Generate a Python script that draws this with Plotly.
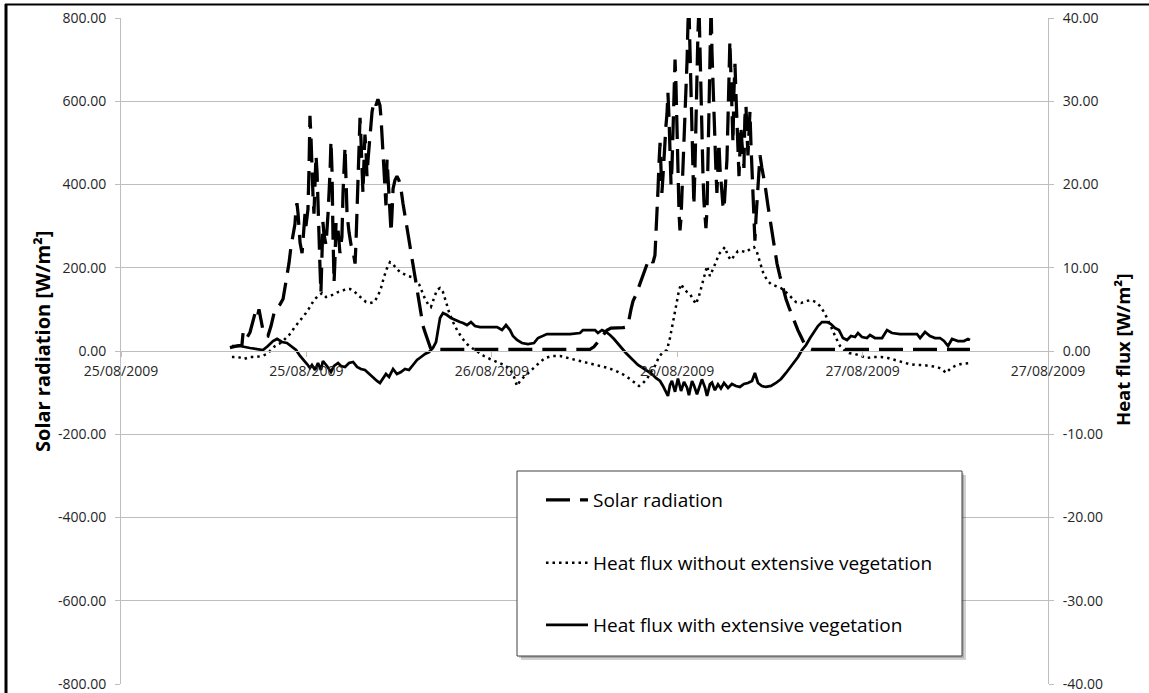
import pandas as pd
import plotly.graph_objects as go

# (hours since 25/08/2009 00:00, W/m2)
solar_radiation = [
    (7.05, 8), (7.31, 10), (7.57, 12), (7.83, 15), (7.90, 43), (8.09, 28), (8.35, 45), (8.54, 75),
    (8.67, 90), (8.80, 78), (8.93, 100), (9.06, 75), (9.19, 50), (9.32, 38), (9.51, 36), (9.71, 60),
    (9.90, 90), (10.10, 105), (10.29, 112), (10.49, 125), (10.61, 150), (10.74, 175), (10.87, 210),
    (11.00, 250), (11.13, 275), (11.26, 305), (11.33, 345), (11.39, 355), (11.46, 330), (11.59, 260),
    (11.72, 235), (11.78, 275), (11.91, 330), (11.97, 300), (12.10, 340), (12.17, 440), (12.23, 565),
    (12.30, 510), (12.36, 420), (12.43, 370), (12.49, 330), (12.56, 410), (12.62, 470), (12.69, 430),
    (12.75, 340), (12.82, 270), (12.88, 200), (12.94, 140), (13.01, 240), (13.07, 310), (13.14, 280),
    (13.27, 255), (13.40, 330), (13.46, 370), (13.53, 430), (13.59, 505), (13.66, 430), (13.72, 280),
    (13.79, 165), (13.85, 220), (13.92, 310), (14.05, 290), (14.17, 235), (14.30, 275), (14.37, 380),
    (14.50, 490), (14.56, 430), (14.63, 330), (14.76, 285), (14.89, 255), (15.02, 240), (15.15, 210),
    (15.21, 260), (15.28, 330), (15.34, 390), (15.40, 460), (15.47, 560), (15.53, 510), (15.60, 430),
    (15.66, 380), (15.73, 460), (15.79, 520), (15.86, 480), (15.92, 420), (15.99, 460), (16.12, 530),
    (16.25, 575), (16.38, 600), (16.50, 590), (16.63, 605), (16.76, 590), (16.83, 560), (16.89, 520),
    (16.96, 470), (17.02, 420), (17.09, 380), (17.15, 350), (17.22, 460), (17.28, 420), (17.35, 340),
    (17.41, 300), (17.48, 285), (17.54, 330), (17.61, 390), (17.73, 410), (17.86, 420), (17.99, 410),
    (18.12, 390), (18.25, 355), (18.38, 325), (18.51, 290), (18.64, 260), (18.77, 235), (18.90, 210),
    (19.03, 180), (19.16, 145), (19.29, 110), (19.42, 80), (19.55, 60), (19.68, 45), (19.81, 30),
    (19.94, 15), (20.06, 4),
    (30.35, 4), (30.61, 10), (30.87, 22), (31.06, 32), (31.26, 42), (31.45, 50), (31.71, 55),
    (31.97, 55), (32.23, 55), (32.49, 56), (32.75, 58), (32.88, 75), (33.01, 100), (33.14, 120),
    (33.33, 135), (33.52, 155), (33.72, 172), (33.91, 195), (34.11, 215), (34.30, 222), (34.43, 212),
    (34.56, 230), (34.62, 270), (34.69, 330), (34.76, 390), (34.82, 450), (34.89, 500), (34.95, 440),
    (35.01, 380), (35.08, 420), (35.14, 470), (35.21, 520), (35.27, 540), (35.34, 570), (35.40, 620),
    (35.47, 560), (35.53, 480), (35.60, 400), (35.66, 440), (35.73, 560), (35.79, 650), (35.86, 700),
    (35.92, 640), (35.99, 520), (36.05, 400), (36.12, 330), (36.18, 290), (36.25, 320), (36.31, 380),
    (36.38, 450), (36.44, 520), (36.57, 600), (36.64, 700), (36.70, 790), (36.76, 830), (36.83, 720),
    (36.89, 620), (36.96, 510), (37.02, 420), (37.08, 350), (37.15, 440), (37.21, 560), (37.28, 650),
    (37.34, 760), (37.41, 830), (37.47, 720), (37.54, 600), (37.60, 500), (37.67, 420), (37.73, 360),
    (37.80, 320), (37.86, 295), (37.93, 340), (37.99, 480), (38.06, 640), (38.12, 760), (38.19, 830),
    (38.25, 720), (38.31, 640), (38.38, 560), (38.44, 480), (38.51, 430), (38.57, 380), (38.64, 450),
    (38.70, 500), (38.77, 440), (38.83, 410), (38.90, 380), (38.96, 350), (39.03, 340), (39.09, 380),
    (39.22, 460), (39.29, 560), (39.35, 680), (39.41, 745), (39.48, 660), (39.54, 560), (39.61, 500),
    (39.67, 620), (39.74, 690), (39.80, 620), (39.87, 540), (39.93, 460), (40.00, 420), (40.06, 480),
    (40.12, 540), (40.19, 500), (40.25, 460), (40.32, 440), (40.38, 560), (40.45, 590), (40.51, 530),
    (40.58, 470), (40.64, 520), (40.71, 575), (40.77, 500), (40.84, 430), (40.90, 350), (40.97, 290),
    (41.03, 265), (41.10, 320), (41.23, 400), (41.36, 470), (41.48, 440), (41.68, 400), (41.87, 350),
    (42.07, 300), (42.26, 250), (42.46, 210), (42.65, 180), (42.84, 150), (43.04, 125), (43.23, 105),
    (43.43, 85), (43.62, 65), (43.81, 50), (44.01, 35), (44.20, 20), (44.46, 8), (44.72, 4),
    (54.95, 4),
]

# (hours since 25/08/2009 00:00, W/m2)
heat_flux_without = [
    (7.18, -0.72), (7.57, -0.72), (7.96, -0.96), (8.35, -0.72), (8.74, -0.72), (9.13, -0.60),
    (9.45, -0.36), (9.71, 0.12), (9.97, 0.60), (10.23, 0.84), (10.49, 1.20), (10.74, 1.68),
    (11.00, 2.16), (11.20, 2.76), (11.46, 3.36), (11.72, 3.96), (11.97, 4.56), (12.23, 5.28),
    (12.49, 6.12), (12.75, 6.60), (13.01, 6.96), (13.27, 6.48), (13.53, 6.60), (13.79, 6.84),
    (14.05, 7.08), (14.30, 7.20), (14.56, 7.44), (14.82, 7.44), (15.08, 7.20), (15.34, 6.72),
    (15.60, 6.24), (15.86, 5.88), (16.12, 5.76), (16.38, 5.88), (16.63, 6.60), (16.83, 7.56),
    (17.02, 8.88), (17.22, 9.96), (17.41, 10.68), (17.61, 10.44), (17.80, 9.96), (18.06, 9.48),
    (18.32, 9.24), (18.58, 9.00), (18.83, 8.88), (19.09, 8.52), (19.29, 8.04), (19.48, 7.08),
    (19.68, 6.24), (19.87, 5.64), (20.06, 5.28), (20.26, 6.36), (20.45, 7.32), (20.65, 7.56),
    (20.84, 7.08), (21.04, 5.88), (21.23, 4.68), (21.49, 3.48), (21.75, 2.52), (22.07, 1.56),
    (22.39, 0.84), (22.72, 0.36), (23.11, -0.12), (23.49, -0.60), (23.88, -0.96), (24.34, -1.32),
    (24.79, -1.68), (25.18, -2.16), (25.44, -3.12), (25.63, -4.20), (25.83, -3.60), (26.08, -3.12),
    (26.41, -2.52), (26.73, -2.04), (27.06, -1.44), (27.44, -0.84), (27.90, -0.60), (28.41, -0.60),
    (28.93, -0.84), (29.45, -1.08), (29.97, -1.32), (30.49, -1.56), (31.00, -1.80), (31.52, -2.04),
    (32.04, -2.40), (32.56, -2.88), (32.94, -3.36), (33.27, -3.84), (33.53, -4.20), (33.78, -3.84),
    (34.04, -3.36), (34.30, -2.52), (34.56, -1.80), (34.82, -0.72), (35.08, -0.12), (35.34, 0.12),
    (35.53, 1.56), (35.73, 3.48), (35.92, 5.52), (36.12, 7.32), (36.25, 8.04), (36.44, 7.44),
    (36.64, 7.08), (36.83, 6.84), (37.02, 6.24), (37.21, 5.64), (37.41, 6.60), (37.60, 7.92),
    (37.80, 9.48), (37.93, 10.20), (38.12, 9.00), (38.31, 9.72), (38.51, 10.68), (38.70, 11.64),
    (38.90, 12.12), (39.09, 12.48), (39.29, 11.40), (39.48, 10.92), (39.67, 11.40), (39.93, 12.00),
    (40.19, 12.00), (40.45, 11.88), (40.71, 12.24), (40.97, 12.48), (41.16, 11.88), (41.36, 10.68),
    (41.55, 9.48), (41.81, 8.52), (42.07, 8.04), (42.39, 7.80), (42.72, 7.56), (43.04, 7.08),
    (43.37, 6.48), (43.69, 5.88), (44.01, 5.76), (44.34, 6.00), (44.66, 6.12), (44.98, 5.88),
    (45.24, 5.40), (45.50, 4.68), (45.76, 3.72), (46.02, 2.52), (46.28, 1.56), (46.54, 0.60),
    (46.80, 0.12), (47.12, -0.24), (47.51, -0.36), (47.90, -0.60), (48.28, -0.84), (48.74, -0.72),
    (49.19, -0.72), (49.64, -0.84), (50.10, -1.08), (50.55, -1.32), (51.00, -1.56), (51.46, -1.68),
    (51.91, -1.68), (52.36, -1.80), (52.82, -1.92), (53.14, -2.16), (53.40, -2.64), (53.66, -2.16),
    (53.98, -1.80), (54.37, -1.56), (54.76, -1.44), (54.95, -1.44),
]

# (hours since 25/08/2009 00:00, W/m2)
heat_flux_with = [
    (7.18, 0.60), (7.70, 0.60), (8.35, 0.36), (8.87, 0.24), (9.19, 0.12), (9.51, 0.60), (9.84, 1.20),
    (10.10, 1.45), (10.42, 1.08), (10.74, 0.96), (11.07, 0.48), (11.33, 0.12), (11.59, -0.60),
    (11.84, -1.08), (12.04, -1.56), (12.23, -2.04), (12.36, -1.68), (12.56, -2.28), (12.75, -1.44),
    (12.94, -2.28), (13.07, -1.20), (13.33, -1.80), (13.59, -2.52), (13.79, -1.80), (14.05, -1.44),
    (14.24, -1.80), (14.50, -1.92), (14.76, -1.44), (15.02, -1.32), (15.28, -1.92), (15.53, -2.16),
    (15.79, -2.28), (16.05, -2.76), (16.31, -3.12), (16.57, -3.60), (16.76, -3.84), (16.96, -3.24),
    (17.15, -2.76), (17.35, -3.12), (17.61, -2.16), (17.86, -2.76), (18.12, -2.52), (18.38, -2.16),
    (18.64, -2.28), (18.90, -1.68), (19.16, -1.08), (19.42, -0.72), (19.68, -0.36), (19.94, -0.12),
    (20.19, 0.36), (20.39, 1.08), (20.52, 2.52), (20.65, 3.96), (20.84, 4.56), (21.10, 4.32),
    (21.36, 3.96), (21.62, 3.72), (21.94, 3.48), (22.14, 3.36), (22.39, 3.12), (22.65, 3.48),
    (22.91, 3.00), (23.24, 2.88), (23.88, 2.88), (24.34, 2.88), (24.66, 2.52), (24.92, 3.12),
    (25.18, 2.52), (25.37, 1.80), (25.63, 1.32), (25.95, 0.96), (26.34, 0.84), (26.73, 0.96),
    (26.99, 1.56), (27.31, 1.80), (27.57, 2.04), (28.41, 2.04), (29.06, 2.04), (29.71, 2.16),
    (29.90, 2.52), (30.36, 2.52), (30.68, 2.52), (30.87, 2.16), (31.13, 2.52), (31.39, 2.28),
    (31.65, 1.92), (31.91, 1.44), (32.17, 0.84), (32.42, 0.24), (32.68, -0.24), (32.94, -0.72),
    (33.20, -1.20), (33.46, -1.68), (33.78, -2.04), (34.11, -2.40), (34.37, -2.76), (34.62, -3.24),
    (34.89, -3.60), (35.08, -4.20), (35.27, -4.90), (35.40, -5.40), (35.53, -4.10), (35.66, -3.60),
    (35.86, -4.90), (36.05, -3.30), (36.25, -4.80), (36.44, -3.70), (36.64, -4.40), (36.76, -5.30),
    (36.96, -3.60), (37.08, -4.10), (37.28, -5.20), (37.47, -4.20), (37.60, -3.40), (37.80, -4.40),
    (37.93, -5.40), (38.12, -4.00), (38.25, -3.80), (38.44, -4.70), (38.64, -4.00), (38.83, -4.50),
    (39.03, -3.84), (39.29, -4.44), (39.54, -3.96), (39.80, -4.20), (40.06, -4.32), (40.32, -3.96),
    (40.58, -3.84), (40.84, -3.60), (41.03, -2.64), (41.23, -3.84), (41.48, -4.20), (41.74, -4.32),
    (42.07, -4.20), (42.39, -3.84), (42.72, -3.36), (43.04, -2.64), (43.30, -2.04), (43.56, -1.44),
    (43.82, -0.72), (44.08, 0.12), (44.34, 0.72), (44.60, 1.56), (44.85, 2.28), (45.11, 3.00),
    (45.37, 3.48), (45.70, 3.48), (45.95, 3.24), (46.21, 2.76), (46.47, 2.52), (46.73, 1.56),
    (46.99, 1.32), (47.25, 1.80), (47.51, 1.68), (47.70, 2.16), (47.96, 1.68), (48.28, 1.56),
    (48.48, 1.92), (48.80, 1.56), (49.26, 1.56), (49.58, 2.52), (49.90, 2.16), (50.42, 2.04),
    (51.07, 2.04), (51.52, 2.04), (51.72, 1.56), (52.04, 2.28), (52.36, 1.80), (52.69, 1.56),
    (53.01, 1.56), (53.27, 1.20), (53.53, 0.60), (53.79, 1.44), (54.17, 1.20), (54.56, 1.20),
    (54.82, 1.44), (54.95, 1.32),
]

series_names = ["Solar radiation", "Heat flux without extensive vegetation",
                "Heat flux with extensive vegetation"]
left_ticks = [-800, -600, -400, -200, 0, 200, 400, 600, 800]
right_ticks = [-40, -30, -20, -10, 0, 10, 20, 30, 40]

base = pd.Timestamp("2009-08-25 00:00")


def to_xy(pairs):
    hrs = [p[0] for p in pairs]
    vals = [p[1] for p in pairs]
    return base + pd.to_timedelta(hrs, unit="h"), vals


FONT = "Open Sans"
TXT = "#262626"
GRID = "#BEBEBE"

fig = go.Figure()
sx, sy = to_xy(solar_radiation)
fig.add_trace(go.Scatter(x=sx, y=sy, mode="lines", name=series_names[0], yaxis="y",
                         line=dict(color="black", width=3.25, dash="24px,10px"), legend="legend"))
wx, wy = to_xy(heat_flux_without)
fig.add_trace(go.Scatter(x=wx, y=wy, mode="lines", name=series_names[1], yaxis="y2",
                         line=dict(color="black", width=2.5, dash="2.5px,4px"), legend="legend2"))
vx, vy = to_xy(heat_flux_with)
fig.add_trace(go.Scatter(x=vx, y=vy, mode="lines", name=series_names[2], yaxis="y2",
                         line=dict(color="black", width=2.75), legend="legend3"))

W, H = 1149, 693
L, R, T, B = 121, 1048, 18, 684


def px(xp):
    return (xp - L) / (R - L)


def py(yp):
    return (B - yp) / (B - T)


def leg(xp, yp):
    return dict(x=xp / W, y=1 - yp / H, xref="container", yref="container", xanchor="left",
                yanchor="middle", bgcolor="rgba(0,0,0,0)", borderwidth=0, itemwidth=42,
                font=dict(family=FONT, size=19, color="black"))


shapes = [
    # legend shadow and box
    dict(type="rect", xref="paper", yref="paper", x0=px(521), x1=px(966), y0=py(660), y1=py(475),
         fillcolor="rgba(0,0,0,0.18)", line=dict(width=0), layer="above"),
    dict(type="rect", xref="paper", yref="paper", x0=px(519), x1=px(964), y0=py(658), y1=py(473),
         fillcolor="rgba(0,0,0,0.18)", line=dict(width=0), layer="above"),
    dict(type="rect", xref="paper", yref="paper", x0=px(517), x1=px(962), y0=py(656), y1=py(471),
         fillcolor="white", line=dict(color="#404040", width=1), layer="above"),
    # outer frame lines
    dict(type="line", xref="paper", yref="paper", x0=px(6), x1=px(6), y0=py(4), y1=py(693),
         line=dict(color="black", width=3), layer="above"),
    dict(type="line", xref="paper", yref="paper", x0=px(5), x1=px(1149), y0=py(4.5), y1=py(4.5),
         line=dict(color="black", width=2), layer="above"),
]

fig.update_layout(
    width=W, height=H, template="none",
    paper_bgcolor="white", plot_bgcolor="white",
    margin=dict(l=L, r=W - R, t=T, b=H - B, autoexpand=False),
    showlegend=True,
    legend=leg(541, 500), legend2=leg(541, 563), legend3=leg(541, 625),
    xaxis=dict(type="date", range=[base, base + pd.Timedelta(hours=60)],
               tick0=base, dtick=12 * 3600 * 1000, tickformat="%d/%m/%Y",
               anchor="free", position=0.5, showgrid=False, zeroline=False,
               showline=True, linecolor=GRID, linewidth=1,
               ticks="outside", ticklen=5, tickcolor=GRID, ticklabelstandoff=2,
               tickfont=dict(family=FONT, size=14, color=TXT), automargin=False),
    yaxis=dict(range=[-800, 800], tickvals=left_ticks,
               ticktext=[f"{v:.2f}" for v in left_ticks],
               showgrid=True, gridcolor=GRID, gridwidth=1, zeroline=False,
               showline=True, linecolor=GRID, linewidth=1, mirror=False,
               ticks="outside", ticklen=5, tickcolor=GRID, ticklabelstandoff=6,
               tickfont=dict(family=FONT, size=14, color=TXT), automargin=False),
    yaxis2=dict(range=[-40, 40], tickvals=right_ticks,
                ticktext=[f"{v:.2f}" for v in right_ticks], overlaying="y",
                side="right", showgrid=False, zeroline=False,
                showline=True, linecolor=GRID, linewidth=1,
                ticks="outside", ticklen=5, tickcolor=GRID, ticklabelstandoff=6,
                tickfont=dict(family=FONT, size=14, color=TXT), automargin=False),
    shapes=shapes,
    annotations=[
        dict(text="<b>Solar radiation [W/m²]</b>", xref="paper", yref="paper",
             x=px(42), y=py(342), xanchor="center", yanchor="middle",
             textangle=-90, showarrow=False,
             font=dict(family=FONT, size=20, color="black")),
        dict(text="<b>Heat flux [W/m²]</b>", xref="paper", yref="paper",
             x=px(1122), y=py(350), xanchor="center", yanchor="middle",
             textangle=-90, showarrow=False,
             font=dict(family=FONT, size=18.5, color="black")),
    ],
)

fig.write_html("out.html", config={"displayModeBar": False},
               post_script="document.body.style.margin='0';document.body.style.overflow='hidden';")
